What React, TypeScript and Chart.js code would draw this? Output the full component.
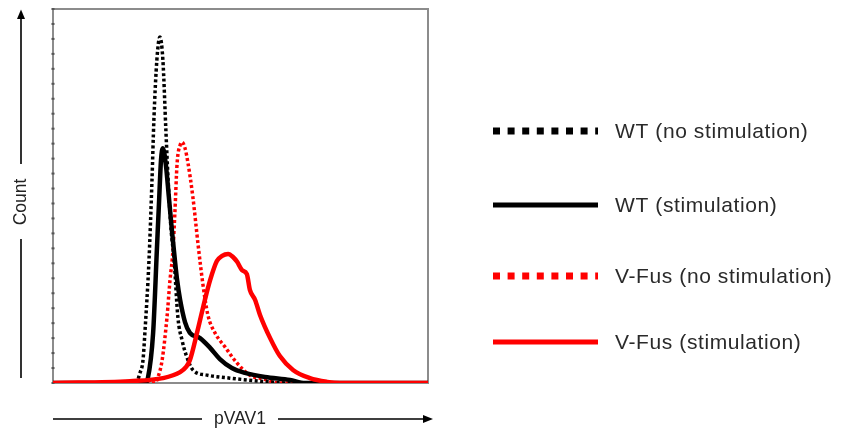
import React, { useEffect, useRef } from 'react';
import { Chart, registerables } from 'chart.js';

Chart.register(...registerables);

// ---- Data (x: relative pVAV1 fluorescence 0-100, y: relative count 0-100) ----
const seriesLabels = [
  'WT (no stimulation)',
  'WT (stimulation)',
  'V-Fus (no stimulation)',
  'V-Fus (stimulation)',
];

const wtNoStimX = [0, 22.1, 23.2, 24.0, 24.5, 25.6, 26.4, 26.9, 27.7, 28.5, 29.3, 30.1, 30.7, 31.5, 32.3, 33.3, 34.4, 35.5, 37.3, 41.1, 47.2, 55.2, 63.2, 100];
const wtNoStimY = [0, 0, 2.7, 6.1, 13.4, 32.9, 54.3, 70.3, 86.4, 92.5, 86.4, 67.6, 54.3, 40.9, 32.9, 17.6, 11.5, 7.5, 3.5, 2.1, 1.3, 0.5, 0, 0];

const wtStimX = [0, 24.5, 25.3, 26.7, 27.7, 28.3, 28.8, 29.3, 30.1, 30.9, 31.7, 32.5, 33.1, 33.9, 35.2, 36.5, 39.2, 41.9, 44.5, 47.7, 51.2, 56.5, 63.2, 67.2, 100];
const wtStimY = [0, 0, 1.3, 13.4, 35.6, 48.9, 59.6, 62.8, 58.3, 49.7, 40.9, 32.9, 27.5, 22.2, 16.3, 13.4, 12.0, 9.4, 6.4, 4.0, 2.7, 1.6, 0.8, 0, 0];

const vfusNoStimX = [0, 27.2, 28.0, 29.1, 30.4, 31.2, 32.0, 32.5, 33.1, 33.9, 34.4, 35.2, 36.0, 37.3, 38.7, 40.0, 41.3, 43.2, 45.9, 49.1, 52.5, 56.0, 60.5, 100];
const vfusNoStimY = [0, 0, 1.6, 6.1, 17.6, 27.5, 35.6, 45.5, 58.8, 63.6, 64.4, 62.8, 58.8, 49.7, 36.9, 26.2, 18.2, 13.4, 9.6, 5.3, 2.1, 1.1, 0, 0];

const vfusStimX = [0, 20.5, 29.3, 33.9, 35.5, 36.5, 38.4, 40.5, 41.9, 43.7, 45.1, 46.7, 48.0, 49.1, 50.4, 51.7, 52.5, 53.9, 55.2, 57.9, 60.5, 64.0, 68.5, 73.1, 76.5, 100];
const vfusStimY = [0, 0.5, 1.3, 2.9, 4.3, 6.1, 13.4, 22.2, 27.5, 32.6, 34.0, 34.5, 33.7, 32.4, 30.2, 29.1, 24.9, 22.2, 18.2, 12.0, 7.2, 3.5, 1.3, 0.3, 0, 0];

const xAxisTitle = 'pVAV1';
const yAxisTitle = 'Count';
const yMinorTicks = [0, 4, 8, 12, 16, 20, 24, 28, 32, 36, 40, 44, 48, 52, 56, 60, 64, 68, 72, 76, 80, 84, 88, 92, 96, 100];

const FONT = '"Liberation Sans", Arial, sans-serif';

const toPoints = (xs: number[], ys: number[]) => xs.map((x, i) => ({ x, y: ys[i] }));

type LegendStyle = { color: string; dotted: boolean };

const legendStyles: LegendStyle[] = [
  { color: '#000000', dotted: true },
  { color: '#000000', dotted: false },
  { color: '#ff0000', dotted: true },
  { color: '#ff0000', dotted: false },
];

const framePlugin = {
  id: 'framePlugin',
  beforeDatasetsDraw(chart: any) {
    const { ctx, chartArea } = chart;
    const { left, right, top, bottom } = chartArea;
    ctx.save();
    ctx.strokeStyle = '#8c8c8c';
    ctx.lineWidth = 2;
    ctx.strokeRect(left, top, right - left, bottom - top);
    const ys = chart.scales.y;
    ctx.fillStyle = '#555555';
    yMinorTicks.forEach((v) => {
      const py = ys.getPixelForValue(v);
      ctx.fillRect(left - 1.5, py - 1, 3, 2);
    });
    ctx.restore();
  },
  afterDraw(chart: any) {
    const { ctx, chartArea } = chart;
    const { left, right, top, bottom } = chartArea;
    ctx.save();
    ctx.strokeStyle = '#000';
    ctx.fillStyle = '#000';
    ctx.lineWidth = 1.6;

    // ---- Y axis arrow with title ----
    const ax = 21;
    const yMid = (top + bottom) / 2 + 6;
    ctx.beginPath();
    ctx.moveTo(ax, bottom - 5);
    ctx.lineTo(ax, yMid + 37);
    ctx.moveTo(ax, yMid - 38);
    ctx.lineTo(ax, top + 8);
    ctx.stroke();
    ctx.beginPath();
    ctx.moveTo(ax, top + 0.5);
    ctx.lineTo(ax - 4, top + 10);
    ctx.lineTo(ax + 4, top + 10);
    ctx.closePath();
    ctx.fill();
    ctx.save();
    ctx.translate(ax, yMid);
    ctx.rotate(-Math.PI / 2);
    ctx.fillStyle = '#222';
    ctx.font = `17.5px ${FONT}`;
    ctx.textAlign = 'center';
    ctx.textBaseline = 'middle';
    ctx.fillText(yAxisTitle, 0, 0);
    ctx.restore();

    // ---- X axis arrow with title ----
    const ay = 419;
    const xMid = 240;
    ctx.beginPath();
    ctx.moveTo(left, ay);
    ctx.lineTo(xMid - 38, ay);
    ctx.moveTo(xMid + 38, ay);
    ctx.lineTo(right - 3, ay);
    ctx.stroke();
    ctx.beginPath();
    ctx.moveTo(right + 5, ay);
    ctx.lineTo(right - 5, ay - 4);
    ctx.lineTo(right - 5, ay + 4);
    ctx.closePath();
    ctx.fill();
    ctx.fillStyle = '#222';
    ctx.font = `17.5px ${FONT}`;
    ctx.textAlign = 'center';
    ctx.textBaseline = 'middle';
    ctx.fillText(xAxisTitle, xMid, ay);

    // ---- Legend ----
    const rowsY = [131, 205, 276, 342];
    const lx0 = 493;
    const lx1 = 598;
    const tx = 615;
    chart.data.datasets.forEach((ds: any, i: number) => {
      const st = legendStyles[i];
      const y = rowsY[i];
      ctx.save();
      ctx.strokeStyle = st.color;
      ctx.lineCap = 'butt';
      if (st.dotted) {
        ctx.lineWidth = 7;
        ctx.setLineDash([7, 7.6]);
      } else {
        ctx.lineWidth = 5;
        ctx.setLineDash([]);
      }
      ctx.beginPath();
      ctx.moveTo(lx0, y);
      ctx.lineTo(lx1, y);
      ctx.stroke();
      ctx.restore();
      ctx.save();
      ctx.fillStyle = '#2a2a2a';
      ctx.font = `21px ${FONT}`;
      (ctx as any).letterSpacing = '0.6px';
      ctx.textAlign = 'left';
      ctx.textBaseline = 'middle';
      ctx.fillText(ds.label, tx, y + 1);
      ctx.restore();
    });
    ctx.restore();
  },
};

export default function App() {
  const canvasRef = useRef<HTMLCanvasElement | null>(null);

  useEffect(() => {
    if (!canvasRef.current) return;
    const chart = new Chart(canvasRef.current, {
      type: 'line',
      data: {
        datasets: [
          {
            label: seriesLabels[0],
            data: toPoints(wtNoStimX, wtNoStimY),
            borderColor: '#000000',
            borderWidth: 3.5,
            borderDash: [3, 2.5],
            order: 2,
          },
          {
            label: seriesLabels[1],
            data: toPoints(wtStimX, wtStimY),
            borderColor: '#000000',
            borderWidth: 4.5,
            order: 1,
          },
          {
            label: seriesLabels[2],
            data: toPoints(vfusNoStimX, vfusNoStimY),
            borderColor: '#ff0000',
            borderWidth: 3.5,
            borderDash: [3, 2.5],
            order: 3,
          },
          {
            label: seriesLabels[3],
            data: toPoints(vfusStimX, vfusStimY),
            borderColor: '#ff0000',
            borderWidth: 4.5,
            order: 0,
          },
        ] as any,
      },
      options: {
        animation: false,
        responsive: false,
        maintainAspectRatio: false,
        layout: { padding: { left: 53, right: 419, top: 9, bottom: 53 } },
        elements: {
          point: { radius: 0 },
          line: { cubicInterpolationMode: 'monotone', fill: false },
        },
        scales: {
          x: { type: 'linear', min: 0, max: 100, display: false },
          y: { type: 'linear', min: 0, max: 100, display: false },
        },
        plugins: {
          legend: { display: false },
          tooltip: { enabled: false },
        },
      },
      plugins: [framePlugin],
    });
    return () => chart.destroy();
  }, []);

  return (
    <div style={{ position: 'absolute', left: 0, top: 0, width: 847, height: 436, background: '#fff' }}>
      <canvas ref={canvasRef} width={847} height={436} style={{ display: 'block' }} />
    </div>
  );
}
